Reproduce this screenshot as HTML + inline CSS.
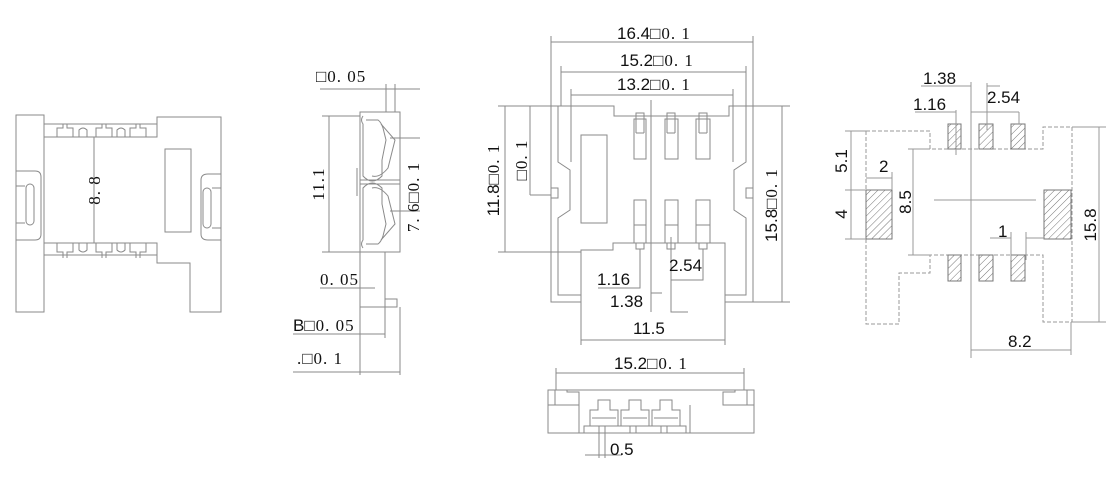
<!DOCTYPE html>
<html><head><meta charset="utf-8"><style>
html,body{margin:0;padding:0;background:#fff;width:1120px;height:492px;overflow:hidden}
svg{display:block}
text{font-family:"Liberation Sans",sans-serif;fill:#111;font-size:17px}
.m{font-family:"Liberation Serif",serif;letter-spacing:1px}
</style></head><body>
<svg width="1120" height="492" viewBox="0 0 1120 492" xmlns="http://www.w3.org/2000/svg">
<defs>
<pattern id="h" width="5" height="5" patternUnits="userSpaceOnUse" patternTransform="rotate(45)">
<line x1="0" y1="0" x2="0" y2="5" stroke="#777" stroke-width="1"/></pattern>
</defs>
<g fill="none" stroke="#8a8a8a" stroke-width="1">
<!-- VIEW 1 -->
<rect x="16" y="115" width="28" height="197"/>
<rect x="44" y="124" width="113" height="13"/>
<rect x="44" y="243" width="113" height="12"/>
<path d="M157 137 V117 H221 V312 H190 V263 H157 V255"/>
<path d="M44 255 V312"/>
<rect x="165" y="149" width="26" height="83"/>
<path d="M16 171 H35 Q41 171 41 177 V234 Q41 240 35 240 H16"/>
<rect x="26" y="184" width="8" height="41" rx="4"/>
<path d="M16 186 H25 M16 223 H25"/>
<path d="M221 174 H208 Q201 174 201 180 V234 Q201 240 208 240 H221"/>
<rect x="203" y="188" width="8" height="40" rx="4"/>
<path d="M212 188 H221 M212 228 H221"/>
<line x1="94" y1="137" x2="94" y2="243"/>
<g>
<path d="M57 137 V128 H63 V124 M67 124 V128 H73 V137 M79 137 V130 Q83 126 87 130 V137 M96 137 V128 H102 V124 M106 124 V128 H112 V137 M117 137 V130 Q121 126 125 130 V137 M130 137 V128 H136 V124 M140 124 V128 H146 V137"/>
<path d="M57 243 V252 H63 V258 M67 258 V252 H73 V243 M79 243 V250 Q83 254 87 250 V243 M96 243 V252 H102 V258 M106 258 V252 H112 V243 M117 243 V250 Q121 254 125 250 V243 M130 243 V252 H136 V258 M140 258 V252 H146 V243"/>
</g>
<!-- VIEW 2 -->
<rect x="360" y="112" width="40" height="140"/>
<path d="M360 252 V307 H397 V299 H385 V252"/>
<path d="M385 299 V307"/>
<path d="M363 116 Q360 120 363 124 V176 Q372 186 382 176 V160 L386 140 L383 128 Q381 122 378 120 H366"/>
<path d="M363 248 Q360 244 363 240 V188 Q372 178 382 188 V204 L386 224 L383 236 Q381 242 378 244 H366"/>
<path d="M381 124 L395 140 L388 168 Q380 178 372 176 M381 240 L395 224 L388 196 Q380 186 372 188"/>
<path d="M360 180 H400 M360 184 H400 M357 168 V196"/>
<line x1="329" y1="116" x2="329" y2="252"/>
<path d="M322 116 H360 M322 252 H360"/>
<path d="M390 138 H420 M390 211 H420"/>
<path d="M320 89 H420 M386 84 V112 M395 84 V112"/>
<path d="M320 288 H375 M293 334 H385 M293 372 H400 M360 307 V375 M385 307 V338 M400 307 V375"/>
<!-- VIEW 3 -->
<path d="M551 42 H753 M561 72 H746 M571 95 H733 M551 36 V106 M753 36 V106 M561 66 V106 M746 66 V106 M571 89 V106 M733 89 V106"/>
<path d="M551 106 H614 V116 H729 V106 H753 V302 H725 V243 H613 V250 H581 V302 H551 Z"/>
<path d="M558 106 V162 L570 170 V210 L558 218 V295 H581 M746 106 V162 L734 170 V210 L746 218 V295 H725 M571 106 V162 M733 106 V162"/>
<rect x="551" y="188" width="7" height="10"/>
<rect x="746" y="188" width="7" height="10"/>
<rect x="581" y="135" width="26" height="88"/>
<g>
<rect x="634" y="119" width="12" height="40"/><rect x="636" y="113" width="8" height="6"/><line x1="636" y1="119" x2="636" y2="133"/><line x1="644" y1="119" x2="644" y2="133"/><line x1="636" y1="133" x2="644" y2="133"/>
<rect x="665" y="119" width="13" height="40"/><rect x="667" y="113" width="8" height="6"/><line x1="667" y1="133" x2="675" y2="133"/><line x1="667" y1="119" x2="667" y2="133"/><line x1="675" y1="119" x2="675" y2="133"/>
<rect x="696" y="119" width="14" height="40"/><rect x="699" y="113" width="8" height="6"/><line x1="699" y1="133" x2="707" y2="133"/><line x1="699" y1="119" x2="699" y2="133"/><line x1="707" y1="119" x2="707" y2="133"/>
<rect x="634" y="200" width="12" height="43"/><rect x="636" y="243" width="8" height="6"/><line x1="634" y1="225" x2="646" y2="225"/>
<rect x="665" y="200" width="13" height="43"/><rect x="667" y="243" width="8" height="6"/><line x1="665" y1="225" x2="678" y2="225"/>
<rect x="696" y="200" width="14" height="43"/><rect x="699" y="243" width="8" height="6"/><line x1="696" y1="225" x2="710" y2="225"/>
</g>
<line x1="651" y1="100" x2="651" y2="310"/>
<path d="M505 106 V252 M498 106 H551 M498 252 H581 M530 106 V195 M530 195 H551 M782 106 V302 M753 106 H790 M753 302 H790"/>
<path d="M640 249 V288 H598 M651 293 H662 M671 237 V312 H688 M671 280 H703 V249 M581 302 V345 M725 302 V345 M581 340 H725 M651 312 V292"/>
<!-- bottom view -->
<path d="M556 373 H744 M556 368 V390 M744 368 V390"/>
<rect x="548" y="390" width="206" height="43"/>
<path d="M555 390 V405 H579 M548 405 H579 V392 H567 V390 M747 390 V405 H723 M754 405 H723 V392 H735 V390"/>
<path d="M579 405 V433 M690 405 V433"/>
<path d="M584 433 V426 H686 V433 M590 426 V410 H598 V400 H610 V410 H618 V426 M621 426 V410 H629 V400 H641 V410 H649 V426 M652 426 V410 H660 V400 H672 V410 H680 V426 M592 418 H616 M623 418 H647 M654 418 H678"/>
<path d="M599 433 V426 M605 426 V433 M630 433 V426 M636 426 V433 M661 433 V426 M667 426 V433"/>
<path d="M599 433 V458 M605 433 V458 M585 455 H622"/>
</g>
<!-- VIEW 4 -->
<g fill="none" stroke="#9a9a9a" stroke-width="1" stroke-dasharray="4,2">
<path d="M866 131 H930 V149 H1043 V127 H1072 V322 H1043 V255 H930 V273 H899 V324 H866 Z"/>
</g>
<g stroke="#777" stroke-width="1" fill="url(#h)">
<rect x="948" y="124" width="13" height="25"/><rect x="979" y="124" width="14" height="25"/><rect x="1011" y="124" width="14" height="25"/>
<rect x="948" y="255" width="13" height="26"/><rect x="979" y="255" width="14" height="26"/><rect x="1011" y="255" width="14" height="26"/>
<rect x="866" y="190" width="26" height="49"/><rect x="1044" y="190" width="27" height="49"/>
</g>
<g fill="none" stroke="#999" stroke-width="1">
<path d="M913 149 V255 M908 149 H930 M908 255 H930 M971 82 V358 M934 200 H1036"/>
<path d="M1099 127 V322 M1072 127 H1106 M1072 322 H1106 M971 350 H1071 M1071 322 V355"/>
<path d="M851 131 V239 M845 131 H866 M845 190 H866 M845 239 H866 M866 178 H892 M892 172 V190"/>
<path d="M921 86 H971 M915 112 H956 M956 110 V155 M971 112 H987 M987 83 V130 M987 86 H1000 M1019 112 V124 M987 112 H1019"/>
<path d="M990 238 H1011 M1026 238 H1044 M1011 232 V260 M1026 232 V260"/>
</g>
<!-- TEXT -->
<text class="m" transform="translate(100,190) rotate(-90)" text-anchor="middle" font-size="16">8. 8</text>
<text class="m" x="316" y="82" font-size="17">□0. 05</text>
<text class="m" transform="translate(324,184) rotate(-90)" text-anchor="middle" font-size="18">11.1</text>
<text class="m" transform="translate(419,197) rotate(-90)" text-anchor="middle" font-size="17">7. 6□0. 1</text>
<text class="m" x="320" y="285" font-size="17">0. 05</text>
<text x="293" y="331">B<tspan class="m">□0. 05</tspan></text>
<text class="m" x="297" y="364">.□0. 1</text>
<text x="617" y="39">16.4<tspan class="m">□0. 1</tspan></text>
<text x="620" y="66">15.2<tspan class="m">□0. 1</tspan></text>
<text x="617" y="90">13.2<tspan class="m">□0. 1</tspan></text>
<text transform="translate(499,180) rotate(-90)" text-anchor="middle">11.8<tspan class="m">□0. 1</tspan></text>
<text class="m" transform="translate(527,160) rotate(-90)" text-anchor="middle">□0. 1</text>
<text transform="translate(777,205) rotate(-90)" text-anchor="middle">15.8<tspan class="m">□0. 1</tspan></text>
<text x="669" y="271">2.54</text>
<text x="597" y="285">1.16</text>
<text x="610" y="307">1.38</text>
<text x="633" y="334">11.5</text>
<text x="614" y="369">15.2<tspan class="m">□0. 1</tspan></text>
<text x="610" y="455">0.5</text>
<text x="923" y="84">1.38</text>
<text x="913" y="110">1.16</text>
<text x="987" y="103">2.54</text>
<text x="879" y="172">2</text>
<text transform="translate(847,161) rotate(-90)" text-anchor="middle">5.1</text>
<text transform="translate(847,214) rotate(-90)" text-anchor="middle">4</text>
<text transform="translate(911,202) rotate(-90)" text-anchor="middle">8.5</text>
<text x="998" y="237">1</text>
<text transform="translate(1096,225) rotate(-90)" text-anchor="middle">15.8</text>
<text x="1008" y="347">8.2</text>
</svg>
</body></html>
